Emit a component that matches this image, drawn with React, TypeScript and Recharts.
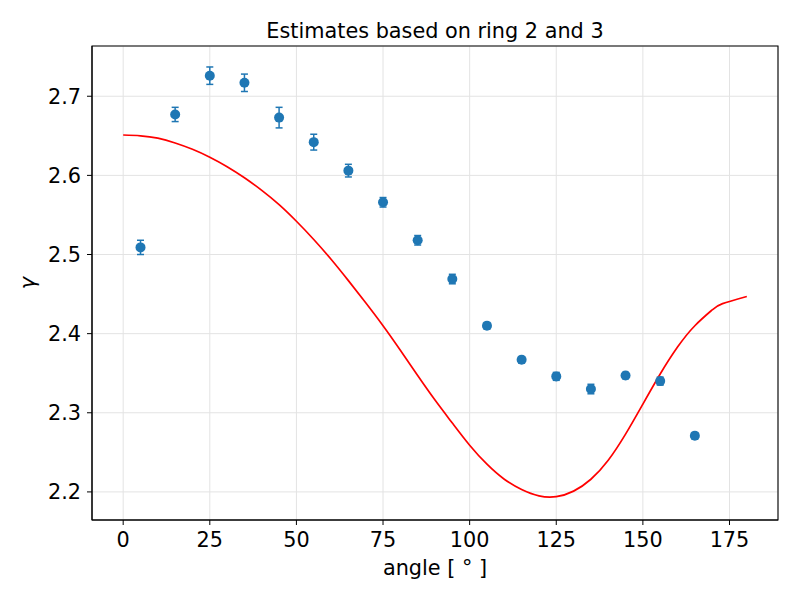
import { ScatterChart, Scatter, XAxis, YAxis, CartesianGrid, ErrorBar, ReferenceArea, Label } from 'recharts';

// measured points (angle in degrees)
const pointAngles = [5, 15, 25, 35, 45, 55, 65, 75, 85, 95, 105, 115, 125, 135, 145, 155, 165];
const pointGamma = [2.509, 2.677, 2.726, 2.717, 2.673, 2.642, 2.606, 2.566, 2.518, 2.469, 2.410, 2.367, 2.346, 2.330, 2.347, 2.340, 2.271];
const pointErr = [0.009, 0.009, 0.011, 0.011, 0.013, 0.010, 0.008, 0.006, 0.006, 0.006, 0.004, 0.004, 0.005, 0.006, 0.004, 0.005, 0.004];

// model curve
const curveAngles = [0, 5, 10, 15, 20, 25, 30, 35, 40, 45, 50, 55, 60, 65, 70, 75, 80, 85, 90, 95, 100, 105, 110, 115, 120, 125, 130, 135, 140, 145, 150, 155, 160, 165, 170, 173, 180];
const curveGamma = [2.651, 2.650, 2.647, 2.641, 2.633, 2.623, 2.611, 2.597, 2.581, 2.563, 2.542, 2.519, 2.494, 2.467, 2.439, 2.410, 2.379, 2.347, 2.316, 2.287, 2.259, 2.235, 2.216, 2.203, 2.195, 2.194, 2.201, 2.216, 2.240, 2.273, 2.311, 2.349, 2.383, 2.410, 2.430, 2.438, 2.447];

const xTicks = [0, 25, 50, 75, 100, 125, 150, 175];
const yTicks = [2.2, 2.3, 2.4, 2.5, 2.6, 2.7];

const points = pointAngles.map((x, i) => ({ x, y: pointGamma[i], err: pointErr[i] }));
const curve = curveAngles.map((x, i) => ({ x, y: curveGamma[i] }));

const X_DOMAIN: [number, number] = [-9, 189];
const Y_DOMAIN: [number, number] = [2.1645, 2.7635];
const FS = 20.8;

export default function App() {
  return (
    <div style={{ position: 'absolute', left: 0, top: 0, width: 800, height: 600, background: '#fff', fontFamily: 'DejaVu Sans' }}>
      <ScatterChart width={800} height={600} margin={{ top: 46, right: 22, bottom: 0, left: 0 }}>
        <CartesianGrid stroke="#e3e3e3" strokeWidth={1} />
        <XAxis
          dataKey="x"
          type="number"
          domain={X_DOMAIN}
          ticks={xTicks}
          allowDataOverflow
          height={80}
          tickSize={5}
          tickMargin={7}
          stroke="#000"
          tick={{ fontSize: FS, fill: '#000' }}
          label={{ value: 'angle [ ° ]', position: 'insideBottom', offset: 25, fontSize: FS, fill: '#000' }}
        />
        <YAxis
          dataKey="y"
          type="number"
          domain={Y_DOMAIN}
          ticks={yTicks}
          allowDataOverflow
          width={92}
          tickSize={5}
          tickMargin={6}
          stroke="#000"
          tick={{ fontSize: FS, fill: '#000' }}
          tickFormatter={(v: number) => v.toFixed(1)}
          label={{
            content: () => (
              <text x={35} y={283} transform="rotate(-90 35 283)" textAnchor="middle" fontSize={FS} fontStyle="italic" fill="#000">
                γ
              </text>
            ),
          }}
        />
        <ReferenceArea x1={X_DOMAIN[0]} x2={X_DOMAIN[1]} y1={Y_DOMAIN[0]} y2={Y_DOMAIN[1]} fill="none" stroke="#000" strokeWidth={1.1} strokeOpacity={1}>
          <Label value="Estimates based on ring 2 and 3" position="top" offset={8} fontSize={FS} fill="#000" />
        </ReferenceArea>
        <Scatter
          data={curve}
          line={{ stroke: '#ff0000', strokeWidth: 1.7 }}
          lineType="joint"
          lineJointType="natural"
          shape={() => <g />}
          isAnimationActive={false}
        />
        <Scatter
          data={points}
          fill="#1f77b4"
          shape={(p: any) => <circle cx={p.cx} cy={p.cy} r={5} fill="#1f77b4" />}
          isAnimationActive={false}
        >
          <ErrorBar dataKey="err" direction="y" width={3.5} stroke="#1f77b4" strokeWidth={1.5} />
        </Scatter>
      </ScatterChart>
    </div>
  );
}
